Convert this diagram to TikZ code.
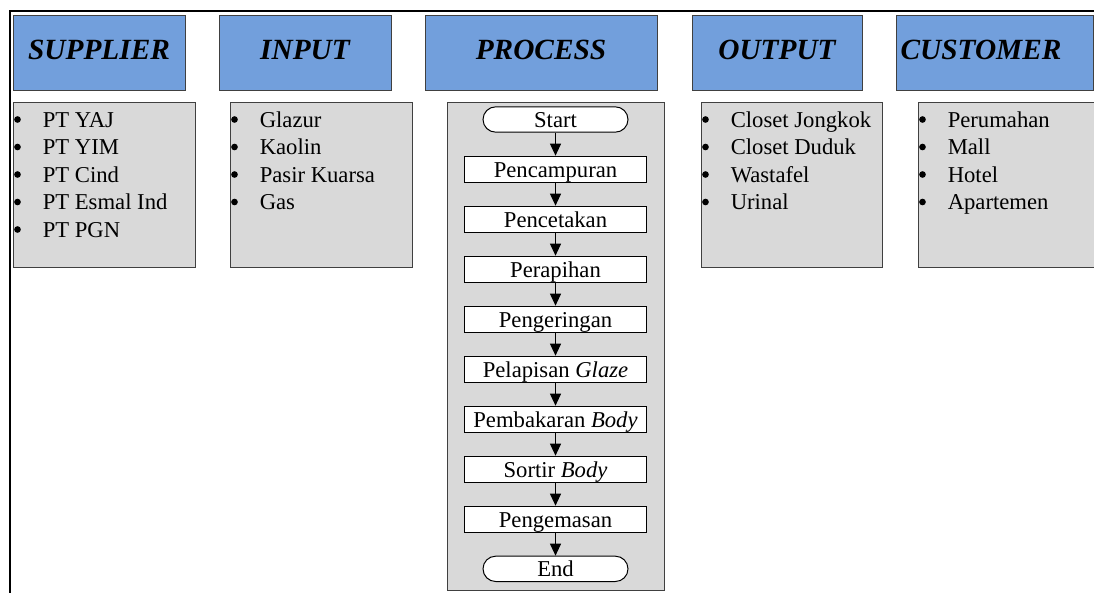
\documentclass[tikz,border=0pt]{standalone}
\usepackage{fontspec}
\setmainfont{Liberation Serif}
\usepackage{xcolor}
\usetikzlibrary{arrows.meta, positioning, fit, shapes.misc}

\definecolor{headblue}{RGB}{114,159,220}
\definecolor{boxgray}{RGB}{217,217,217}
\definecolor{edgegray}{RGB}{64,64,64}

\tikzset{
  headtext/.style={inner sep=0pt, text height=15pt, text depth=4.5pt,
    font=\fontsize{22}{26}\selectfont\bfseries\itshape},
  head/.style={headtext, draw=edgegray, line width=0.75pt, fill=headblue,
    minimum height=56.25pt},
  listbox/.style={draw=edgegray, line width=0.75pt, fill=boxgray, inner sep=0pt},
  item/.style={anchor=base west, inner sep=0pt, font=\fontsize{17}{20}\selectfont},
  stepbox/.style={draw, fill=white, line width=0.75pt, minimum width=136.5pt,
    minimum height=19.5pt, inner sep=0pt, text height=15.5pt, text depth=3.5pt,
    font=\fontsize{17}{20}\selectfont},
  termbox/.style={stepbox, rounded rectangle, minimum width=108.75pt, minimum height=19pt},
  flow/.style={line width=0.75pt, -{Triangle[length=9pt,width=8.25pt]}},
}

\newcommand{\listitems}[2]{%
  \foreach \t [count=\i] in {#2} {
    \node[item] (#1\i) at ([shift={(30,25.5+27.5*(\i-1))}]b#1.north west) {\t};
    \fill ([shift={(-25,-7.5)}]#1\i.base west) circle (2.5pt);
  }}

\begin{document}
\begin{tikzpicture}[x=0.75pt, y=-0.75pt]
\useasboundingbox (0,0) rectangle (1094,593);
\clip (0,0) rectangle (1094,593);

% frame
\draw[line width=1.5pt] (1094,11) -- (10,11) -- (10,593);

% headers
\node[head, minimum width=129pt] (hsup) at (99,52.5) {SUPPLIER};
\node[head, minimum width=129pt] (hin) at (305,52.5) {INPUT};
\node[head, minimum width=174pt] (hproc) at (541,52.5) {PROCESS};
\node[head, minimum width=127.5pt] (hout) at (777,52.5) {OUTPUT};
\node[head, minimum width=147.75pt] (hcus) at (994.5,52.5) {};
\node[headtext] (tcus) at (981,52.5) {CUSTOMER};

% content boxes
\node[listbox, fit={(13,102) (195,267)}] (bsup) {};
\node[listbox, fit={(230,102) (412,267)}] (bin) {};
\node[listbox, fit={(447,102) (664,590)}] (bproc) {};
\node[listbox, fit={(701,102) (882,267)}] (bout) {};
\node[listbox, fit={(918,102) (1100,267)}] (bcus) {};

% lists
\listitems{sup}{PT YAJ, PT YIM, PT Cind, PT Esmal Ind, PT PGN}
\listitems{in}{Glazur, Kaolin, Pasir Kuarsa, Gas}
\listitems{out}{Closet Jongkok, Closet Duduk, Wastafel, Urinal}
\listitems{cus}{Perumahan, Mall, Hotel, Apartemen}

% process flow
\node[termbox] (s0) at (555.5,119.5) {Start};
\foreach \t [count=\i, remember=\i as \j (initially 0)] in {Pencampuran, Pencetakan,
    Perapihan, Pengeringan, Pelapisan \textit{Glaze}, Pembakaran \textit{Body},
    Sortir \textit{Body}, Pengemasan}
  \node[stepbox, below=17.25pt of s\j] (s\i) {\t};
\node[termbox, below=17.25pt of s8] (s9) {End};

\foreach \i [count=\k from 1] in {0,...,8}
  \draw[flow] (s\i.south) -- (s\k.north);

\end{tikzpicture}
\end{document}
